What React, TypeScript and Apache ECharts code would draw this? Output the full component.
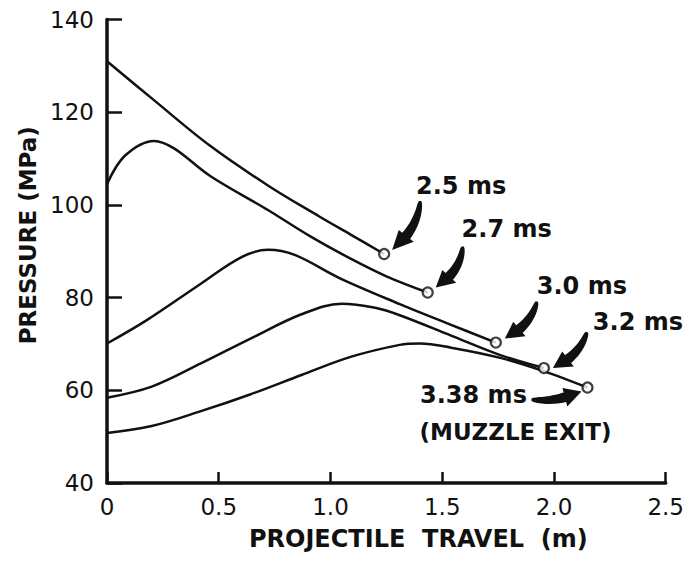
import React, { useEffect, useRef } from "react";
import * as echarts from "echarts";

// Pressure profiles along the barrel at successive times after ignition.
// travel in metres, pressure in MPa
const travel25 = [0, 0.21, 0.46, 0.72, 0.95, 1.09, 1.24];
const pressure25 = [131, 122.6, 112.8, 104.2, 97.5, 93.6, 89.4];

const travel27 = [0, 0.08, 0.21, 0.3, 0.46, 0.72, 0.91, 1.09, 1.25, 1.435];
const pressure27 = [104.5, 110.6, 113.8, 112.2, 106.3, 98.9, 93.2, 88.4, 84.6, 81.1];

const travel30 = [0, 0.18, 0.42, 0.6, 0.72, 0.84, 1.045, 1.31, 1.52, 1.74];
const pressure30 = [70.1, 75.2, 83, 88.7, 90.3, 89.2, 84.1, 78.6, 74.5, 70.3];

const travel32 = [0, 0.2, 0.42, 0.64, 0.87, 1.05, 1.2, 1.31, 1.54, 1.76, 1.955];
const pressure32 = [58.4, 60.8, 65.8, 71.1, 76.4, 78.7, 77.8, 76.2, 71.8, 67.6, 64.8];

const travel338 = [0, 0.2, 0.42, 0.64, 0.87, 1.09, 1.31, 1.4, 1.54, 1.76, 1.95, 2.15];
const pressure338 = [50.8, 52.3, 55.5, 59.1, 63.3, 67.2, 69.8, 70.1, 69.2, 67, 64.2, 60.6];

const timeLabels = ["2.5 ms", "2.7 ms", "3.0 ms", "3.2 ms", "3.38 ms"];
const muzzleLabel = "(MUZZLE EXIT)";

const xTitle = "PROJECTILE  TRAVEL  (m)";
const yTitle = "PRESSURE (MPa)";

const curves = [
  { name: timeLabels[0], x: travel25, y: pressure25 },
  { name: timeLabels[1], x: travel27, y: pressure27 },
  { name: timeLabels[2], x: travel30, y: pressure30 },
  { name: timeLabels[3], x: travel32, y: pressure32 },
  { name: timeLabels[4], x: travel338, y: pressure338 },
];

// Annotation layout relative to each curve's end marker (pixels):
// label centre offset, arrow tail / tip offsets, arrow bend.
const annotationLayout = [
  { label: [77, -68], tail: [36, -53], tip: [8, -4], bend: -12 },
  { label: [79, -64], tail: [35, -46], tip: [8, -5], bend: -12 },
  { label: [86, -57], tail: [41, -41], tip: [9, -4], bend: -11 },
  { label: [94, -46], tail: [43, -36], tip: [9, 0], bend: -11 },
  { label: [-114, 7], tail: [-56, 12], tip: [-6, 4], bend: 7 },
];
const muzzleOffset = [-72, 44];

type Pt = [number, number];

function arrowPoints(tail: Pt, tip: Pt, bend: number): number[][] {
  const dx = tip[0] - tail[0];
  const dy = tip[1] - tail[1];
  const len = Math.hypot(dx, dy);
  const nx = -dy / len;
  const ny = dx / len;
  const c: Pt = [tail[0] + dx * 0.45 + nx * bend, tail[1] + dy * 0.45 + ny * bend];
  const at = (t: number): Pt => [
    (1 - t) * (1 - t) * tail[0] + 2 * (1 - t) * t * c[0] + t * t * tip[0],
    (1 - t) * (1 - t) * tail[1] + 2 * (1 - t) * t * c[1] + t * t * tip[1],
  ];
  const tan = (t: number): Pt => {
    const tx = 2 * (1 - t) * (c[0] - tail[0]) + 2 * t * (tip[0] - c[0]);
    const ty = 2 * (1 - t) * (c[1] - tail[1]) + 2 * t * (tip[1] - c[1]);
    const l = Math.hypot(tx, ty) || 1;
    return [tx / l, ty / l];
  };
  const tb = 0.68;
  const n = 16;
  const left: number[][] = [];
  const right: number[][] = [];
  for (let i = 0; i <= n; i++) {
    const t = (tb * i) / n;
    const p = at(t);
    const T = tan(t);
    const w = 1.2 + 3.8 * Math.sqrt(i / n);
    left.push([p[0] - T[1] * w, p[1] + T[0] * w]);
    right.push([p[0] + T[1] * w, p[1] - T[0] * w]);
  }
  const b = at(tb);
  const Tb = tan(tb);
  const hw = 9.5;
  return [
    ...left,
    [b[0] - Tb[1] * hw, b[1] + Tb[0] * hw],
    [tip[0], tip[1]],
    [b[0] + Tb[1] * hw, b[1] - Tb[0] * hw],
    ...right.reverse(),
  ];
}

export default function App() {
  const ref = useRef<HTMLDivElement>(null);

  useEffect(() => {
    if (!ref.current) return;
    const chart = echarts.init(ref.current, null, { renderer: "svg" });
    const tickFont = { fontFamily: "DejaVu Sans", fontSize: 23, color: "#111" };
    const titleFont = { fontFamily: "DejaVu Sans", fontWeight: "bold" as const, fontSize: 23, color: "#111" };

    chart.setOption({
      animation: false,
      backgroundColor: "#ffffff",
      grid: { left: 98, right: 21, top: 10, bottom: 66 },
      xAxis: {
        type: "value",
        min: 0,
        max: 2.5,
        interval: 0.5,
        name: xTitle,
        nameLocation: "middle",
        nameGap: 44,
        nameTextStyle: { ...titleFont, fontSize: 24, padding: [0, 0, 0, 64] },
        axisLine: { lineStyle: { color: "#111", width: 3.5 } },
        axisTick: { inside: true, length: 11, lineStyle: { color: "#111", width: 2.5 } },
        axisLabel: {
          ...tickFont,
          margin: 12,
          formatter: (v: number) => (v === 0 ? "0" : v.toFixed(1)),
        },
        splitLine: { show: false },
      },
      yAxis: {
        type: "value",
        min: 40,
        max: 140,
        interval: 20,
        name: yTitle,
        nameLocation: "middle",
        nameGap: 68,
        nameTextStyle: { ...titleFont, padding: [0, 0, 0, 32] },
        axisLine: { lineStyle: { color: "#111", width: 3.5 } },
        axisTick: { inside: true, length: 15, lineStyle: { color: "#111", width: 2.5 } },
        axisLabel: { ...tickFont, margin: 13 },
        splitLine: { show: false },
      },
      series: [
        ...curves.map((c) => ({
          type: "line",
          name: c.name,
          data: c.x.map((x, i) => [x, c.y[i]]),
          smooth: 0.35,
          showSymbol: false,
          lineStyle: { color: "#111", width: 2.5 },
        })),
        {
          type: "scatter",
          name: "markers",
          data: curves.map((c) => [c.x[c.x.length - 1], c.y[c.y.length - 1]]),
          symbol: "circle",
          symbolSize: 10,
          itemStyle: { color: "#fff", borderColor: "#111", borderWidth: 2.2 },
          z: 5,
        },
      ],
    });

    const graphics: any[] = [];
    curves.forEach((c, i) => {
      const m = chart.convertToPixel({ gridIndex: 0 }, [
        c.x[c.x.length - 1],
        c.y[c.y.length - 1],
      ]) as number[];
      const lay = annotationLayout[i];
      graphics.push({
        type: "text",
        x: m[0] + lay.label[0],
        y: m[1] + lay.label[1],
        style: {
          text: c.name,
          ...titleFont,
          fontSize: 24,
          fill: "#111",
          align: "center",
          verticalAlign: "middle",
        },
      });
      graphics.push({
        type: "polygon",
        shape: {
          points: arrowPoints(
            [m[0] + lay.tail[0], m[1] + lay.tail[1]],
            [m[0] + lay.tip[0], m[1] + lay.tip[1]],
            lay.bend
          ),
        },
        style: { fill: "#111" },
      });
      if (i === curves.length - 1) {
        graphics.push({
          type: "text",
          x: m[0] + muzzleOffset[0],
          y: m[1] + muzzleOffset[1],
          style: {
            text: muzzleLabel,
            ...titleFont,
            fontSize: 23,
            fill: "#111",
            align: "center",
            verticalAlign: "middle",
          },
        });
      }
    });
    chart.setOption({ graphic: graphics });

    return () => chart.dispose();
  }, []);

  return <div ref={ref} style={{ width: 679, height: 548 }} />;
}
